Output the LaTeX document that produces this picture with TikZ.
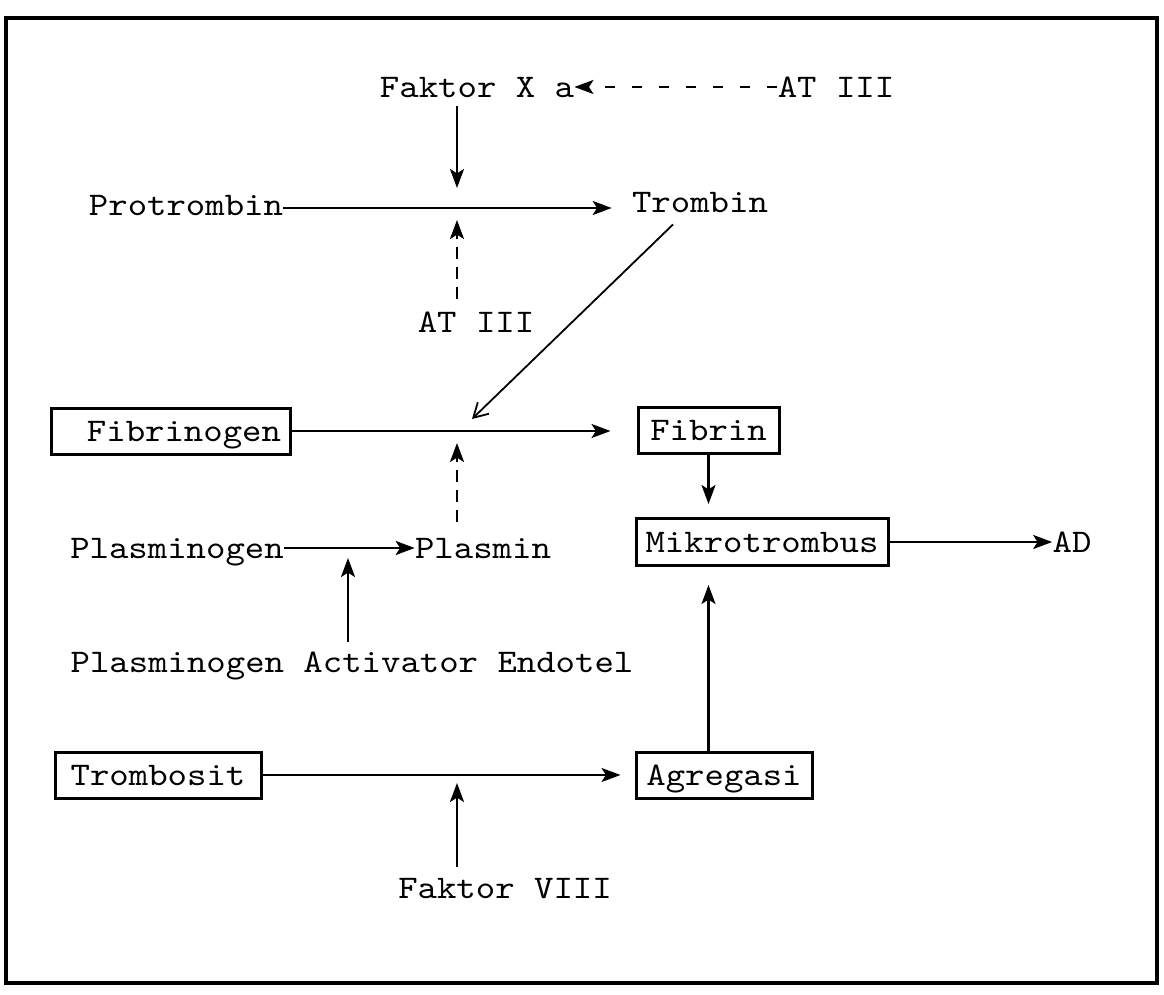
\documentclass[tikz,border=0pt]{standalone}
\usepackage{fontspec}
\newfontfamily\tw[FakeStretch=1.12]{lmmono10-regular.otf}
\usetikzlibrary{arrows.meta}
\begin{document}
\begin{tikzpicture}[x=0.5pt,y=-0.5pt,
  lbl/.style={font=\tw\fontsize{16.5pt}{19pt}\selectfont, inner sep=0pt, text height=10.1pt, text depth=0pt},
  boxed/.style={lbl, draw, line width=1.5pt, minimum height=23pt},
  arr/.style={line width=1.2pt, -{Stealth[length=9.5pt,width=7pt,inset=2.2pt]}},
  diag/.style={line width=0.9pt, -{Straight Barb[length=7pt,width=8pt]}},
  dshh/.style={dash pattern=on 5pt off 8.5pt},
  dshv/.style={dash pattern=on 6pt off 4pt},
  frame/.style={line width=1.6pt}]
\useasboundingbox (0,0) rectangle (1164,995);
\fill[white] (0,0) rectangle (1164,995);
\draw[frame] (6,18) rectangle (1157,983);

% nodes
\node[lbl] (fxa) at (477,87) {Faktor X a};
\node[lbl] (at1) at (836,87) {AT III};
\node[lbl] (prot) at (186,205) {Protrombin};
\node[lbl] (trom) at (700,202) {Trombin};
\node[lbl] (at2) at (476,322) {AT III};
\node[boxed, minimum width=119.5pt] (fibg) at (171,431) {\hspace*{13pt}Fibrinogen};
\node[boxed, minimum width=70.5pt] (fibr) at (708.5,430) {Fibrin};
\node[lbl] (plg) at (177,548) {Plasminogen};
\node[lbl] (pla) at (483,548) {Plasmin};
\node[boxed, minimum width=126pt, minimum height=23.5pt] (mik) at (762,542) {Mikrotrombus};
\node[lbl] (ad) at (1072,542) {AD};
\node[lbl] (pae) at (352,662) {Plasminogen Activator Endotel};
\node[boxed, minimum width=103pt] (trb) at (158,775) {Trombosit};
\node[boxed, minimum width=88pt] (agr) at (724,775) {Agregasi};
\node[lbl] (f8) at (505,888) {Faktor VIII};

% junction points on reaction lines
\coordinate (m1) at (457,208);
\coordinate (d2) at (472,419);
\coordinate (m2) at (457,430);
\coordinate (m3) at (348,548);
\coordinate (m4) at (457,775);

% connectors
\draw[arr, dshh] (at1.west) -- (fxa.east);
\draw[arr, shorten <=4.5pt, shorten >=10pt] (fxa.south -| m1) -- (m1);
\draw[arr, shorten >=10pt] (prot.east |- m1) -- (trom.west |- m1);
\draw[arr, dshv, shorten <=6pt, shorten >=6pt] (at2.north -| m1) -- (m1);
\draw[diag] ([shift={(-27,12)}]trom.south) -- (d2);
\draw[arr, shorten >=13pt] (fibg.east) -- (fibg.east -| fibr.west);
\draw[arr, dshv, shorten <=8pt, shorten >=6.5pt] (pla.north -| m2) -- (m2);
\draw[arr] (plg.east) -- (pla.west);
\draw[arr, shorten <=5pt, shorten >=5pt] (pae.north -| m3) -- (m3);
\draw[arr, shorten >=6.5pt] (fibr.south) -- (fibr.south |- mik.north);
\draw[arr] (mik.east) -- (ad.west);
\draw[arr, shorten >=9pt] (agr.north -| fibr.south) -- (mik.south -| fibr.south);
\draw[arr, shorten >=7pt] (trb.east) -- (agr.west);
\draw[arr, shorten <=5.5pt, shorten >=4pt] (f8.north -| m4) -- (m4);
\end{tikzpicture}
\end{document}
